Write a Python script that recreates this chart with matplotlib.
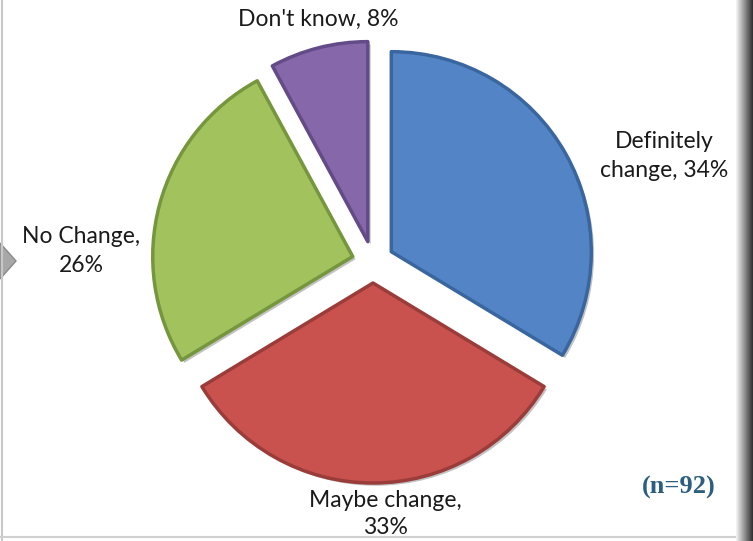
import numpy as np
import matplotlib
matplotlib.use("Agg")
import matplotlib.pyplot as plt
from matplotlib.patches import Polygon
import matplotlib.patheffects as pe

labels = ["Definitely\nchange, 34%", "Maybe change,\n33%", "No Change,\n26%", "Don't know, 8%"]
values = [34, 33, 26, 8]
colors = ["#5385C6", "#C9524F", "#A2C25D", "#8667AA"]
edges = ["#3A66A0", "#9A3D3A", "#76963E", "#624B86"]

W, H = 753, 541
fig = plt.figure(figsize=(W / 100, H / 100), dpi=100)
ax = fig.add_axes([0, 0, 1, 1])

cx, cy, r = 373, H - 262, 200
wedges, _ = ax.pie(values, colors=colors, startangle=90, counterclock=False,
                   explode=[21] * 4, radius=r, center=(cx, cy), frame=True,
                   wedgeprops=dict(linewidth=2.5, joinstyle="round"))
for w, ec in zip(wedges, edges):
    w.set_edgecolor(ec)
    w.set_path_effects([pe.SimplePatchShadow(offset=(2, -2), shadow_rgbFace="#9a9a9a", alpha=0.6),
                        pe.Normal()])
ax.set_xlim(0, W)
ax.set_ylim(0, H)
ax.set_aspect("equal")
ax.axis("off")

font = "Lato"
fs = 16.5
tc = "#1a1a1a"
ax.text(318, H - 19, labels[3], ha="center", va="center", fontsize=fs, family=font, color=tc)
ax.text(664, H - 156, labels[0], ha="center", va="center", fontsize=fs, family=font,
        color=tc, linespacing=1.45)
ax.text(81, H - 251, labels[2], ha="center", va="center", fontsize=fs, family=font,
        color=tc, linespacing=1.45)
ax.text(385, H - 514, labels[1], ha="center", va="center", fontsize=fs, family=font,
        color=tc, linespacing=1.3)
ax.text(679, H - 487, "(n=92)", ha="center", va="center", fontsize=19, family="Liberation Serif",
        weight="bold", color="#2C5E80")

# frame decoration
grad = np.linspace(0.95, 0.2, 20).reshape(1, -1)
ax.imshow(grad, extent=[736, W, 0, H], cmap="gray", vmin=0, vmax=1, aspect="auto", zorder=5)
ax.plot([2, 2], [0, H], color="#c8c8c8", lw=1.5)
ax.plot([0, 736], [4, 4], color="#d0d0d0", lw=1.5)
ax.add_patch(Polygon([[0, H - 243], [16, H - 261], [0, H - 279]], closed=True,
                     facecolor="#a8a8a8", edgecolor="#8a8a8a", lw=1))
ax.set_xlim(0, W)
ax.set_ylim(0, H)

fig.savefig("out.png", dpi=100)
